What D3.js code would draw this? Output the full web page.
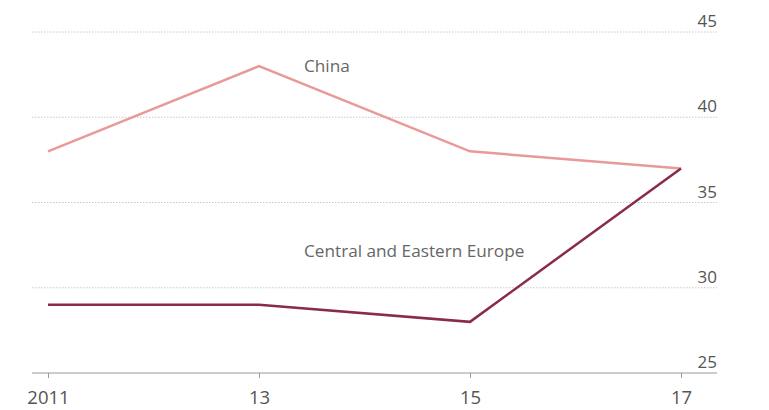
<!DOCTYPE html>
<html><head><meta charset="utf-8">
<script src="https://cdn.jsdelivr.net/npm/d3@7"></script>
<style>body{margin:0;background:#fff;} svg{display:block;font-family:"Open Sans",sans-serif;}</style>
</head><body>
<svg id="c" width="769" height="410"></svg>
<script>
const years = [2011, 2013, 2015, 2017];
const yearLabels = ["2011", "13", "15", "17"];
const china = [38, 43, 38, 37];
const cee = [29, 29, 28, 37];
const yTicks = [25, 30, 35, 40, 45];
const seriesNames = ["China", "Central and Eastern Europe"];

const svg = d3.select("#c");
const x = d3.scaleLinear().domain([2011, 2017]).range([48, 681]);
const y = d3.scaleLinear().domain([25, 45]).range([373, 32]);

// gridlines
svg.append("g").selectAll("line").data(yTicks.filter(d => d !== 25)).join("line")
  .attr("x1", 32).attr("x2", 717)
  .attr("y1", d => y(d)).attr("y2", d => y(d))
  .attr("stroke", "#c8c8c8").attr("stroke-width", 1).attr("stroke-dasharray", "1.5,1.5");

// y labels
svg.append("g").selectAll("text").data(yTicks).join("text")
  .attr("x", 717).attr("y", d => y(d) - 5)
  .attr("text-anchor", "end").attr("font-size", 17).attr("fill", "#555")
  .text(d => d);

// x axis
const xAxis = d3.axisBottom(x).tickValues(years).tickFormat((d, i) => yearLabels[i]).tickSize(5).tickPadding(13);
const gx = svg.append("g").attr("transform", `translate(0,${y(25)})`).call(xAxis);
gx.select(".domain").remove();
gx.selectAll(".tick line").attr("stroke", "#999");
gx.selectAll(".tick text").attr("font-size", 18.5).attr("fill", "#555").attr("font-family", "Open Sans, sans-serif");
svg.append("line").attr("x1", 32).attr("x2", 717).attr("y1", y(25)).attr("y2", y(25))
  .attr("stroke", "#999").attr("stroke-width", 1);

const line = d3.line().x((d, i) => x(years[i])).y(d => y(d));
svg.append("path").datum(china).attr("d", line).attr("fill", "none")
  .attr("stroke", "#e89a98").attr("stroke-width", 2.5);
svg.append("path").datum(cee).attr("d", line).attr("fill", "none")
  .attr("stroke", "#8a2a4c").attr("stroke-width", 2.5);

svg.append("text").attr("x", 304).attr("y", 72).attr("font-size", 17.2).attr("fill", "#666").text(seriesNames[0]);
svg.append("text").attr("x", 304).attr("y", 257).attr("font-size", 17.2).attr("fill", "#666").text(seriesNames[1]);
</script>
</body></html>
